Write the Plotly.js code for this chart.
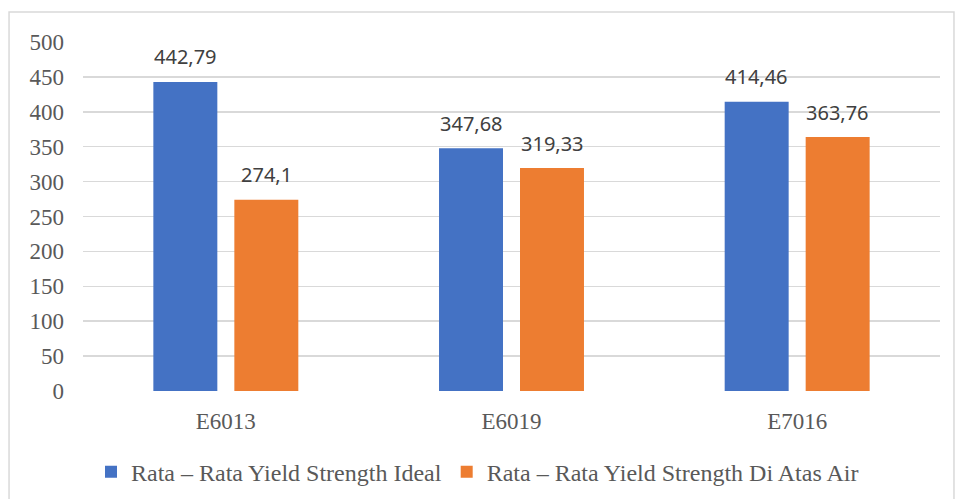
<!DOCTYPE html>
<html>
<head>
<meta charset="utf-8">
<script src="https://cdn.plot.ly/plotly-3.0.1.min.js"></script>
<style>
html,body{margin:0;padding:0;background:#fff;}
#chart{width:955px;height:499px;}
</style>
</head>
<body>
<div id="chart"></div>
<script>
var categories = ["E6013", "E6019", "E7016"];
var seriesNames = ["Rata \u2013 Rata Yield Strength Ideal", "Rata \u2013 Rata Yield Strength Di Atas Air"];
var idealValues = [442.79, 347.68, 414.46];
var airValues = [274.1, 319.33, 363.76];
var yTickValues = [0, 50, 100, 150, 200, 250, 300, 350, 400, 450, 500];

var colors = ["#4472C4", "#ED7D31"];
var serifFont = "Liberation Serif, Times New Roman, serif";
var sansFont = "Noto Sans, Liberation Sans, sans-serif";

function fmt(v){ return String(v).replace('.', ','); }

var traces = [
  {type:'bar', name: seriesNames[0], x: categories, y: idealValues, marker:{color: colors[0]}, hoverinfo:'skip'},
  {type:'bar', name: seriesNames[1], x: categories, y: airValues, marker:{color: colors[1]}, hoverinfo:'skip'}
];

var annotations = [];
[idealValues, airValues].forEach(function(arr, si){
  arr.forEach(function(v, i){
    annotations.push({
      x: categories[i], y: v, xref:'x', yref:'y',
      text: fmt(v), showarrow:false,
      xshift: si === 0 ? -40.5 : 40.5,
      yshift: 25, yanchor:'middle',
      font:{family: sansFont, size: 20, color:'#404040'}
    });
  });
});

var layout = {
  width: 955, height: 499,
  margin: {l: 83, r: 15, t: 42, b: 108},
  paper_bgcolor: '#fff', plot_bgcolor: '#fff',
  barmode: 'group', bargap: 0.433, bargroupgap: 0.21,
  separators: ',.',
  showlegend: true,
  legend: {
    orientation: 'h', xref: 'container', yref: 'container',
    x: 0.5, xanchor: 'center', y: 0.054, yanchor: 'middle',
    font: {family: serifFont, size: 24, color: '#595959'},
    traceorder: 'normal'
  },
  xaxis: {
    type: 'category', showgrid: false, zeroline: false, showline: false,
    ticks: '', ticklabelstandoff: 14,
    tickfont: {family: serifFont, size: 23, color: '#595959'}
  },
  yaxis: {
    range: [0, 500], tickvals: yTickValues, showgrid: true,
    gridcolor: '#D9D9D9', gridwidth: 1.5, zeroline: false, showline: false,
    ticks: '', ticklabelstandoff: 18,
    tickfont: {family: serifFont, size: 23, color: '#595959'}
  },
  annotations: annotations,
  shapes: [{
    type: 'rect', xref: 'paper', yref: 'paper',
    x0: -0.0863, x1: 1.0163, y0: -0.33, y1: 1.086,
    line: {color: '#D9D9D9', width: 1.5}, fillcolor: 'rgba(0,0,0,0)', layer: 'below'
  }]
};

Plotly.newPlot('chart', traces, layout, {displayModeBar: false, staticPlot: true});
</script>
</body>
</html>
